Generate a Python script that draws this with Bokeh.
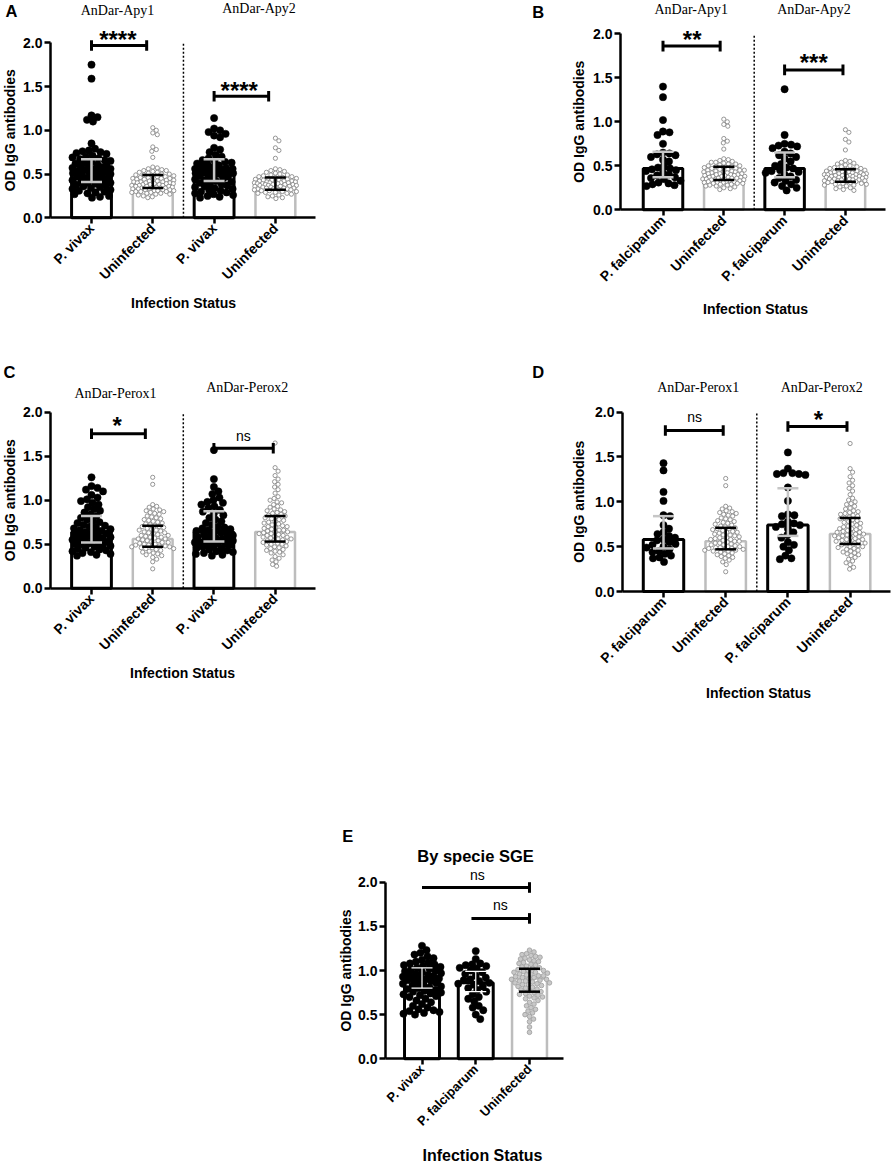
import math
from bokeh.plotting import figure
from bokeh.models import Range1d, FixedTicker, PrintfTickFormatter, Label, Spacer
from bokeh.layouts import column, row
from bokeh.embed import file_html
from bokeh.resources import INLINE

SANS = "Liberation Sans"
SERIF = "Liberation Serif"

VIVAX = "P. vivax"
FALC = "P. falciparum"
UNINF = "Uninfected"

# ---------------- data ----------------
APY1_VIVAX = [1.75, 1.59, 1.17, 1.15, 1.12, 1.10, 0.85, 0.79, 0.77, 0.76, 0.75, 0.74, 0.73, 0.71, 0.70, 0.69,
              0.68, 0.67, 0.66, 0.65, 0.64, 0.63, 0.62, 0.61, 0.60, 0.60, 0.59, 0.58, 0.57, 0.56, 0.56, 0.55,
              0.54, 0.53, 0.53, 0.52, 0.51, 0.50, 0.50, 0.49, 0.48, 0.47, 0.46, 0.45, 0.45, 0.44, 0.43, 0.42,
              0.41, 0.40, 0.40, 0.39, 0.38, 0.37, 0.36, 0.35, 0.34, 0.33, 0.32, 0.31, 0.30, 0.29, 0.28, 0.27,
              0.25, 0.24, 0.23]
UNINF_APY1 = [1.03, 1.00, 0.97, 0.95, 0.81, 0.78, 0.76, 0.69, 0.58, 0.57, 0.56, 0.55, 0.54, 0.54, 0.53, 0.52,
              0.52, 0.51, 0.50, 0.50, 0.49, 0.49, 0.48, 0.48, 0.47, 0.47, 0.46, 0.46, 0.45, 0.45, 0.45, 0.44,
              0.44, 0.43, 0.43, 0.43, 0.42, 0.42, 0.41, 0.41, 0.41, 0.40, 0.40, 0.40, 0.39, 0.39, 0.39, 0.38,
              0.38, 0.38, 0.37, 0.37, 0.37, 0.36, 0.36, 0.36, 0.35, 0.35, 0.35, 0.34, 0.34, 0.34, 0.33, 0.33,
              0.33, 0.32, 0.32, 0.32, 0.31, 0.31, 0.31, 0.30, 0.30, 0.30, 0.29, 0.29, 0.28, 0.28, 0.27, 0.27,
              0.26, 0.25, 0.24, 0.23]
APY2_VIVAX = [1.14, 1.02, 1.00, 0.98, 0.96, 0.94, 0.92, 0.80, 0.78, 0.75, 0.72, 0.70, 0.68, 0.66, 0.65, 0.64,
              0.63, 0.62, 0.61, 0.60, 0.59, 0.58, 0.57, 0.56, 0.56, 0.55, 0.55, 0.54, 0.54, 0.53, 0.53, 0.52,
              0.52, 0.51, 0.51, 0.50, 0.50, 0.49, 0.48, 0.47, 0.46, 0.45, 0.44, 0.43, 0.42, 0.41, 0.40, 0.39,
              0.38, 0.37, 0.36, 0.35, 0.34, 0.33, 0.32, 0.31, 0.30, 0.29, 0.28, 0.27, 0.26, 0.25, 0.24, 0.23]
UNINF_APY2 = [0.91, 0.88, 0.80, 0.77, 0.68, 0.56, 0.55, 0.54, 0.53, 0.52, 0.51, 0.50, 0.49, 0.49, 0.48, 0.47,
              0.47, 0.46, 0.46, 0.45, 0.45, 0.44, 0.44, 0.43, 0.43, 0.43, 0.42, 0.42, 0.42, 0.41, 0.41, 0.41,
              0.40, 0.40, 0.40, 0.40, 0.39, 0.39, 0.39, 0.38, 0.38, 0.38, 0.38, 0.37, 0.37, 0.37, 0.36, 0.36,
              0.36, 0.35, 0.35, 0.35, 0.34, 0.34, 0.34, 0.33, 0.33, 0.33, 0.32, 0.32, 0.32, 0.31, 0.31, 0.30,
              0.30, 0.29, 0.29, 0.28, 0.28, 0.27, 0.26, 0.25, 0.24, 0.23, 0.22]
APY1_FALC = [1.40, 1.28, 1.02, 0.89, 0.88, 0.85, 0.75, 0.65, 0.64, 0.63, 0.62, 0.60, 0.57, 0.55, 0.50, 0.48,
             0.47, 0.46, 0.45, 0.44, 0.42, 0.40, 0.39, 0.37, 0.36, 0.35, 0.33, 0.31, 0.30, 0.29, 0.28, 0.27]
APY2_FALC = [1.37, 0.85, 0.75, 0.74, 0.73, 0.72, 0.70, 0.66, 0.64, 0.62, 0.60, 0.58, 0.55, 0.52, 0.50, 0.48,
             0.47, 0.45, 0.44, 0.43, 0.42, 0.40, 0.38, 0.36, 0.34, 0.33, 0.31, 0.29, 0.27, 0.25, 0.22]
PEROX1_VIVAX = [1.26, 1.16, 1.14, 1.12, 1.10, 1.06, 1.03, 1.01, 0.99, 0.97, 0.95, 0.92, 0.90, 0.88, 0.86, 0.84,
                0.82, 0.80, 0.78, 0.76, 0.75, 0.74, 0.72, 0.71, 0.70, 0.69, 0.68, 0.67, 0.66, 0.65, 0.64, 0.63,
                0.62, 0.61, 0.60, 0.60, 0.59, 0.58, 0.57, 0.56, 0.55, 0.55, 0.54, 0.53, 0.52, 0.51, 0.50, 0.50,
                0.49, 0.48, 0.47, 0.46, 0.45, 0.44, 0.43, 0.42, 0.41, 0.40, 0.39, 0.38, 0.37]
UNINF_PEROX1 = [1.26, 1.18, 0.95, 0.93, 0.92, 0.90, 0.89, 0.88, 0.87, 0.86, 0.85, 0.84, 0.82, 0.81, 0.80, 0.79,
                0.78, 0.77, 0.76, 0.75, 0.74, 0.73, 0.72, 0.71, 0.70, 0.70, 0.69, 0.68, 0.67, 0.66, 0.66, 0.65,
                0.64, 0.63, 0.63, 0.62, 0.61, 0.60, 0.60, 0.59, 0.58, 0.58, 0.57, 0.56, 0.56, 0.55, 0.54, 0.54,
                0.53, 0.52, 0.52, 0.51, 0.50, 0.50, 0.49, 0.49, 0.48, 0.48, 0.47, 0.47, 0.46, 0.46, 0.45, 0.45,
                0.44, 0.43, 0.42, 0.41, 0.40, 0.39, 0.38, 0.37, 0.35, 0.33, 0.30, 0.22]
PEROX2_VIVAX = [1.57, 1.24, 1.15, 1.10, 1.07, 1.03, 1.00, 0.98, 0.97, 0.95, 0.93, 0.91, 0.89, 0.87, 0.85, 0.83,
                0.80, 0.78, 0.76, 0.74, 0.72, 0.70, 0.69, 0.68, 0.67, 0.66, 0.65, 0.64, 0.63, 0.62, 0.61, 0.60,
                0.59, 0.58, 0.57, 0.56, 0.56, 0.55, 0.54, 0.53, 0.52, 0.52, 0.51, 0.50, 0.50, 0.49, 0.48, 0.47,
                0.46, 0.45, 0.44, 0.43, 0.42, 0.41, 0.40, 0.39, 0.38, 0.37]
UNINF_PEROX2 = [1.65, 1.37, 1.33, 1.28, 1.24, 1.21, 1.18, 1.15, 1.12, 1.08, 1.04, 1.02, 1.00, 0.98, 0.97, 0.95,
                0.93, 0.92, 0.90, 0.89, 0.88, 0.87, 0.86, 0.85, 0.84, 0.83, 0.82, 0.81, 0.80, 0.79, 0.78, 0.77,
                0.76, 0.75, 0.74, 0.73, 0.72, 0.71, 0.70, 0.70, 0.69, 0.68, 0.67, 0.66, 0.66, 0.65, 0.64, 0.64,
                0.63, 0.62, 0.62, 0.61, 0.60, 0.60, 0.59, 0.58, 0.58, 0.57, 0.56, 0.56, 0.55, 0.54, 0.54, 0.53,
                0.52, 0.51, 0.50, 0.50, 0.49, 0.48, 0.47, 0.46, 0.45, 0.44, 0.43, 0.42, 0.41, 0.40, 0.38, 0.36,
                0.34, 0.32, 0.30, 0.27, 0.25]
PEROX1_FALC = [1.43, 1.35, 1.11, 1.01, 0.85, 0.84, 0.74, 0.70, 0.66, 0.64, 0.62, 0.60, 0.58, 0.57, 0.55, 0.53,
               0.52, 0.50, 0.49, 0.47, 0.45, 0.44, 0.42, 0.40, 0.38, 0.37, 0.33]
PEROX2_FALC = [1.55, 1.37, 1.32, 1.32, 1.31, 1.31, 1.30, 1.16, 1.01, 0.86, 0.85, 0.84, 0.78, 0.76, 0.75, 0.74,
               0.72, 0.70, 0.66, 0.63, 0.60, 0.55, 0.52, 0.50, 0.46, 0.40, 0.37, 0.36]
SGE_VIVAX = [1.28, 1.23, 1.20, 1.18, 1.16, 1.14, 1.12, 1.10, 1.09, 1.08, 1.07, 1.06, 1.05, 1.04, 1.03, 1.02,
             1.01, 1.00, 0.99, 0.98, 0.97, 0.96, 0.95, 0.95, 0.94, 0.93, 0.92, 0.91, 0.90, 0.90, 0.89, 0.88,
             0.87, 0.86, 0.85, 0.84, 0.83, 0.82, 0.81, 0.80, 0.79, 0.78, 0.77, 0.76, 0.75, 0.74, 0.73, 0.72,
             0.71, 0.70, 0.68, 0.66, 0.64, 0.62, 0.60, 0.58, 0.56, 0.55, 0.54, 0.53, 0.52, 0.51, 0.50]
SGE_FALC = [1.22, 1.13, 1.08, 1.07, 1.06, 1.05, 1.03, 1.02, 1.00, 0.98, 0.96, 0.94, 0.92, 0.90, 0.89, 0.88,
            0.86, 0.85, 0.84, 0.82, 0.80, 0.78, 0.76, 0.73, 0.70, 0.68, 0.65, 0.60, 0.58, 0.55, 0.50, 0.45]
SGE_UNINF = [1.23, 1.21, 1.19, 1.18, 1.17, 1.16, 1.15, 1.14, 1.13, 1.12, 1.11, 1.10, 1.09, 1.08, 1.07, 1.06,
             1.05, 1.04, 1.03, 1.02, 1.01, 1.00, 1.00, 0.99, 0.98, 0.98, 0.97, 0.96, 0.96, 0.95, 0.94, 0.94,
             0.93, 0.92, 0.92, 0.91, 0.90, 0.90, 0.89, 0.88, 0.88, 0.87, 0.86, 0.86, 0.85, 0.84, 0.84, 0.83,
             0.82, 0.81, 0.80, 0.79, 0.78, 0.77, 0.76, 0.75, 0.74, 0.73, 0.72, 0.71, 0.70, 0.69, 0.68, 0.66,
             0.64, 0.62, 0.60, 0.58, 0.56, 0.54, 0.52, 0.50, 0.48, 0.45, 0.42, 0.36, 0.30]

# bar heights and error bar ends per panel
A_BAR = [0.52, 0.39, 0.52, 0.39]; A_LO = [0.41, 0.34, 0.42, 0.32]; A_HI = [0.67, 0.49, 0.67, 0.46]
B_BAR = [0.47, 0.39, 0.47, 0.39]; B_LO = [0.37, 0.34, 0.37, 0.32]; B_HI = [0.66, 0.49, 0.65, 0.46]
C_BAR = [0.64, 0.56, 0.64, 0.64]; C_LO = [0.52, 0.47, 0.53, 0.53]; C_HI = [0.82, 0.71, 0.875, 0.82]
D_BAR = [0.58, 0.56, 0.74, 0.64]; D_LO = [0.48, 0.47, 0.62, 0.53]; D_HI = [0.84, 0.71, 1.15, 0.82]
E_BAR = [0.91, 0.86, 0.91]; E_LO = [0.80, 0.76, 0.76]; E_HI = [1.03, 0.99, 1.02]

AB_TICKS_A = [VIVAX, UNINF, VIVAX, UNINF]
AB_TICKS_B = [FALC, UNINF, FALC, UNINF]
E_TICKS = [VIVAX, FALC, UNINF]
APY_TITLES = ["AnDar-Apy1", "AnDar-Apy2"]
PEROX_TITLES = ["AnDar-Perox1", "AnDar-Perox2"]
Y_TITLE = "OD IgG antibodies"
X_TITLE = "Infection Status"

# significance brackets: (from, to, level, text, text x, text y)
A_SIG = [(0.0, 0.90, 1.97, "****", 0.43, 2.10), (2.0, 2.89, 1.39, "****", 2.41, 1.51)]
B_SIG = [(0.0, 0.94, 1.86, "**", 0.48, 2.00), (2.0, 2.96, 1.59, "***", 2.48, 1.73)]
C_SIG = [(0.0, 0.88, 1.755, "*", 0.42, 1.91), (2.0, 2.97, 1.59, "ns", 2.48, 1.735)]
D_SIG = [(0.03, 0.96, 1.795, "ns", 0.50, 1.95), (2.0, 2.95, 1.84, "*", 2.49, 1.98)]
E_SIG = [(0.0, 2.0, 1.94, "ns", 1.03, 2.08), (0.92, 2.0, 1.59, "ns", 1.46, 1.74)]


def swarm(vals, cx, sp, k, d, maxw, overlap):
    n = len(vals)
    order = sorted(range(n), key=lambda i: -vals[i])
    cands = [0.0]
    step = 0.5
    for s in range(1, int(maxw / step) + 1):
        cands += [s * step, -s * step]
    placed = []
    xs = [0.0] * n
    thr = d * overlap
    for i in order:
        py = vals[i] * k
        near = [(qx, qy) for qx, qy in placed if abs(py - qy) < d]
        chosen = None
        best = -1.0
        bestc = 0.0
        for c in cands:
            md = min((math.hypot(c - qx, py - qy) for qx, qy in near), default=1e9)
            if md >= thr:
                chosen = c
                break
            if md > best + 1e-9:
                best = md
                bestc = c
        if chosen is None:
            chosen = bestc
        placed.append((chosen, py))
        xs[i] = cx + chosen / sp
    return xs


def build(g, ticks, groups, bars, los, his, kinds, titles, letter, sig, ylab_x, xlab, xlab_size="14px",
          tick_size="14px", right_caps_only=False, title_big=None, sep=True):
    W, H = g["W"], g["H"]
    ox, oy = g["ox"], g["oy"]
    sp, k, c0, Y0 = g["sp"], g["k"], g["c0"], g["Y0"]

    def dx(rx):
        return (rx - c0) / sp

    def dy(ry):
        return (Y0 - ry) / k

    p = figure(width=W, height=H, x_range=Range1d(dx(ox), dx(ox + W)), y_range=Range1d(dy(oy + H), dy(oy)),
               min_border=0, min_border_left=0, min_border_right=0, min_border_top=0, min_border_bottom=0,
               output_backend="svg", toolbar_location=None,
               background_fill_color="white", border_fill_color="white", outline_line_color=None)
    p.xgrid.visible = False
    p.ygrid.visible = False

    n = len(groups)
    pos = list(range(n))
    # axes, placed at fixed data locations inside the frame
    p.yaxis.fixed_location = dx(g["L"])
    p.xaxis.fixed_location = 0
    p.yaxis.bounds = (0, 2)
    p.xaxis.bounds = (dx(g["L"]), dx(g["R"]))
    p.yaxis.ticker = FixedTicker(ticks=[0, 0.5, 1.0, 1.5, 2.0])
    p.yaxis.formatter = PrintfTickFormatter(format="%.1f")
    p.xaxis.ticker = FixedTicker(ticks=pos)
    p.xaxis.major_label_overrides = {i: t for i, t in enumerate(ticks)}
    p.xaxis.major_label_orientation = math.pi / 4
    for ax in (p.xaxis, p.yaxis):
        ax.axis_line_width = 2.5
        ax.axis_line_color = "black"
        ax.major_tick_line_width = 2.5
        ax.major_tick_line_color = "black"
        ax.major_tick_out = 6
        ax.major_tick_in = 0
        ax.minor_tick_line_color = None
        ax.major_label_text_font = SANS
        ax.major_label_text_font_style = "bold"
        ax.major_label_text_color = "black"
        ax.major_label_standoff = 2
    p.yaxis.major_label_text_font_size = "14px"
    p.xaxis.major_label_text_font_size = tick_size

    # axis titles
    p.add_layout(Label(x=dx(ylab_x), y=1.0, text=Y_TITLE, angle=math.pi / 2, text_font=SANS,
                       text_font_style="bold", text_font_size="14px", text_align="center",
                       text_baseline="middle", text_color="black"))
    p.add_layout(Label(x=dx(xlab[0]), y=dy(xlab[1]), text=X_TITLE, text_font=SANS, text_font_style="bold",
                       text_font_size=xlab_size, text_align="center", text_baseline="middle",
                       text_color="black"))

    bw = 0.65
    # bars
    bar_cols = ["black" if kd == "inf" else "#bdbdbd" for kd in kinds]
    bar_w = [3 if kd == "inf" else 2.5 for kd in kinds]
    for i in pos:
        p.vbar(x=[i], top=[bars[i]], width=bw, fill_color="white", line_color=bar_cols[i],
               line_width=bar_w[i])
    # points
    for i in pos:
        vals = groups[i]
        if kinds[i] == "inf":
            xs = swarm(vals, i, sp, k, 7.3, 19, 0.85)
            p.scatter(x=xs, y=vals, marker="circle", size=7.3, fill_color="black", line_color="black",
                      line_width=0.5)
        elif kinds[i] == "uninf":
            xs = swarm(vals, i, sp, k, 4.6, 21, 0.95)
            p.scatter(x=xs, y=vals, marker="circle", size=4.2, fill_color="white", line_color="#8a8a8a",
                      line_width=0.9)
        else:
            xs = swarm(vals, i, sp, k, 4.8, 20, 0.95)
            p.scatter(x=xs, y=vals, marker="circle", size=4.6, fill_color="#c9c9c9", line_color="#a3a3a3",
                      line_width=0.9)
    # error bars
    cw = 10.5 / sp
    for i in pos:
        if kinds[i] == "inf":
            col = "white" if not sep else "#c6c6c6"
            lw = 2.5 if sep else 1.2
        else:
            col = "black"
            lw = 2.5
        p.segment(x0=[i], y0=[los[i]], x1=[i], y1=[his[i]], line_color=col, line_width=lw)
        p.segment(x0=[i - cw, i - cw], y0=[los[i], his[i]], x1=[i + cw, i + cw], y1=[los[i], his[i]],
                  line_color=col, line_width=lw)
    # separator
    if sep:
        mid = (pos[1] + pos[2]) / 2
        p.segment(x0=[mid], y0=[0], x1=[mid], y1=[2.0], line_color="black", line_width=1.5,
                  line_dash="2 2")
    # brackets
    ch = 5.3 / k
    for (a, b, lev, txt, tx, ty) in sig:
        p.segment(x0=[a], y0=[lev], x1=[b], y1=[lev], line_color="black", line_width=3)
        caps = [b] if right_caps_only else [a, b]
        p.segment(x0=caps, y0=[lev - ch] * len(caps), x1=caps, y1=[lev + ch] * len(caps),
                  line_color="black", line_width=3)
        if txt.startswith("*"):
            fs = 24
            p.add_layout(Label(x=tx, y=ty - 0.22 * fs / k, text=txt, text_font=SANS, text_font_style="bold",
                               text_font_size=f"{fs}px", text_align="center", text_baseline="middle",
                               text_color="black"))
        else:
            p.add_layout(Label(x=tx, y=ty, text=txt, text_font=SANS, text_font_size="14px",
                               text_align="center", text_baseline="middle", text_color="black"))
    # titles
    for (txt, rx, ry) in titles:
        p.add_layout(Label(x=dx(rx), y=dy(ry), text=txt, text_font=SERIF, text_font_size="14px",
                           text_align="center", text_baseline="middle", text_color="black"))
    if title_big:
        txt, rx, ry = title_big
        p.add_layout(Label(x=dx(rx), y=dy(ry), text=txt, text_font=SANS, text_font_style="bold",
                           text_font_size="16.5px", text_align="center", text_baseline="middle",
                           text_color="black"))
    lt, lx, ly = letter
    p.add_layout(Label(x=dx(lx), y=dy(ly), text=lt, text_font=SANS, text_font_style="bold",
                       text_font_size="16.5px", text_align="left", text_baseline="middle", text_color="black"))
    return p


GA = dict(ox=0, oy=0, W=440, H=330, L=50, R=315, c0=91.0, sp=61.3, Y0=217.3, k=87.5)
GB = dict(ox=440, oy=0, W=453, H=330, L=620, R=885, c0=662.5, sp=60.8, Y0=209.3, k=88.0)
GC = dict(ox=0, oy=330, W=440, H=375, L=50, R=315, c0=91.0, sp=61.2, Y0=587.7, k=88.0)
GD = dict(ox=440, oy=330, W=453, H=375, L=622, R=890, c0=663.0, sp=62.2, Y0=591.0, k=89.7)
GE = dict(ox=290, oy=705, W=310, H=459, L=385, R=563, c0=421.5, sp=53.75, Y0=1058.3, k=88.3)

inf4 = ["inf", "uninf", "inf", "uninf"]

pA = build(GA, AB_TICKS_A, [APY1_VIVAX, UNINF_APY1, APY2_VIVAX, UNINF_APY2], A_BAR, A_LO, A_HI, inf4,
           [(APY_TITLES[0], 117, 10), (APY_TITLES[1], 258.5, 8)], ("A", 5, 10), A_SIG, 9.5, (183, 302))
pB = build(GB, AB_TICKS_B, [APY1_FALC, UNINF_APY1, APY2_FALC, UNINF_APY2], B_BAR, B_LO, B_HI, inf4,
           [(APY_TITLES[0], 690.8, 9), (APY_TITLES[1], 813.5, 9)], ("B", 531.7, 11), B_SIG, 578, (755, 308))
pC = build(GC, AB_TICKS_A, [PEROX1_VIVAX, UNINF_PEROX1, PEROX2_VIVAX, UNINF_PEROX2], C_BAR, C_LO, C_HI, inf4,
           [(PEROX_TITLES[0], 115, 392.7), (PEROX_TITLES[1], 246.7, 386.7)], ("C", 3, 371.5), C_SIG, 9.5,
           (182, 672))
pD = build(GD, AB_TICKS_B, [PEROX1_FALC, UNINF_PEROX1, PEROX2_FALC, UNINF_PEROX2], D_BAR, D_LO, D_HI, inf4,
           [(PEROX_TITLES[0], 697.7, 386.7), (PEROX_TITLES[1], 821.3, 386.7)], ("D", 531.7, 371.5), D_SIG,
           578.3, (758, 692))
pE = build(GE, E_TICKS, [SGE_VIVAX, SGE_FALC, SGE_UNINF], E_BAR, E_LO, E_HI, ["inf", "inf", "uninf_fill"],
           [], ("E", 341.7, 835), E_SIG, 345, (482, 1155), xlab_size="16px", tick_size="13px",
           right_caps_only=True, title_big=("By specie SGE", 475, 855), sep=False)

layout = column(row(pA, pB), row(pC, pD), row(Spacer(width=290, height=459), pE))

with open("out.html", "w") as f:
    f.write(file_html(layout, INLINE))
